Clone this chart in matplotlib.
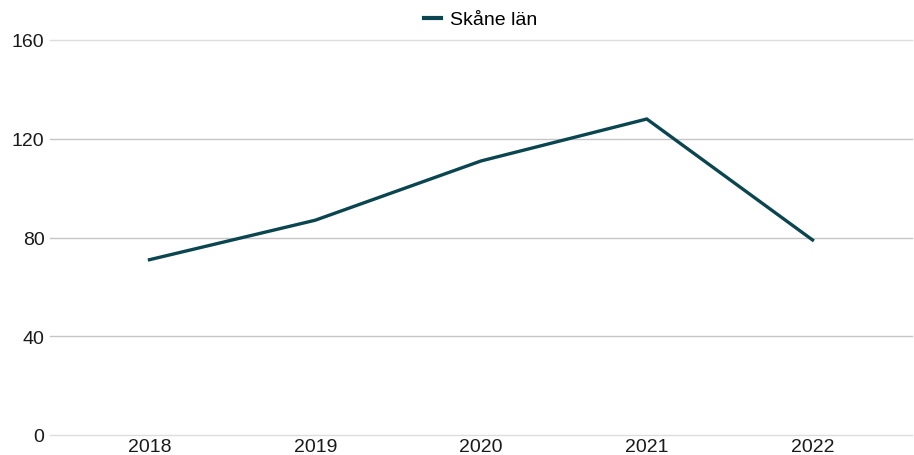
import matplotlib

matplotlib.use("Agg")
import matplotlib.pyplot as plt

plt.rcParams["font.family"] = ["Liberation Sans", "DejaVu Sans"]

years = ["2018", "2019", "2020", "2021", "2022"]
skane = [71, 87, 111, 128, 79]
yticks = [0, 40, 80, 120, 160]

LINE = "#0B4650"

fig = plt.figure(figsize=(9.14, 4.56), dpi=100)
ax = fig.add_axes([50 / 914, 20 / 456, 862 / 914, 395 / 456])

x = list(range(len(years)))
ax.plot(x, skane, color=LINE, lw=2.4, label="Skåne län", solid_joinstyle="miter")

ax.set_xlim(-0.6, len(years) - 0.4)
ax.set_ylim(0, 160)
ax.set_yticks(yticks)
ax.set_yticklabels([str(v) for v in yticks])
ax.set_xticks(x)
ax.set_xticklabels(years)

for v in yticks:
    c = "#DDDDDD" if v in (0, 160) else "#C6C6C6"
    ax.axhline(v, color=c, lw=1.0, zorder=0, clip_on=False)

for s in ax.spines.values():
    s.set_visible(False)
ax.tick_params(axis="both", length=0, labelsize=14, colors="#1A1A1A")
ax.tick_params(axis="y", pad=4)
ax.tick_params(axis="x", pad=2)

leg = ax.legend(loc="lower center", bbox_to_anchor=(0.5, 1.0), frameon=False,
                fontsize=14, handlelength=0.85, handletextpad=0.5, borderaxespad=0.2)
for h in leg.get_lines():
    h.set_linewidth(3)

fig.savefig("out.png", dpi=100)
